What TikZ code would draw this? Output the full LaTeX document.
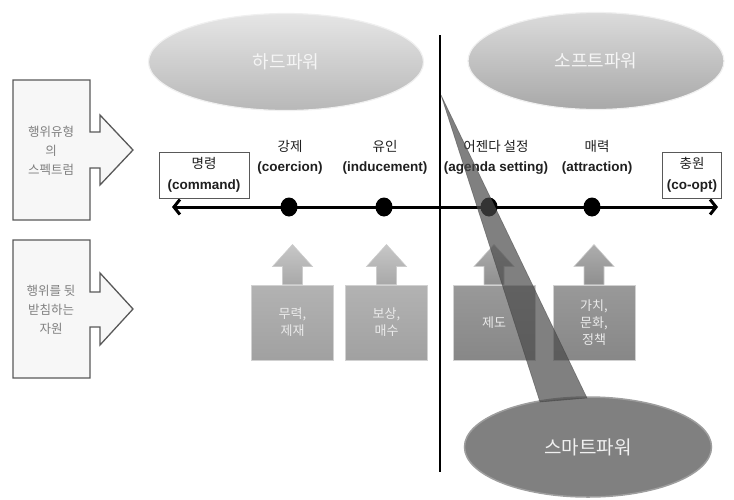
\documentclass[tikz,border=0pt]{standalone}
\usepackage{fontspec}
\setmainfont{Liberation Sans}
\newfontfamily\kr{Noto Sans CJK KR}
\usetikzlibrary{shapes.geometric,arrows.meta,calc}
\begin{document}
\begin{tikzpicture}[x=1pt,y=-1pt,
  every node/.style={inner sep=0pt},
  sideshape/.style={draw=black!65, line width=1.3pt, fill=black!3, line join=miter},
  sidetext/.style={font=\kr\fontsize{12.5}{19}\selectfont, text=black!50, align=center},
  hardsoft/.style={ellipse, minimum height=97pt, draw=black!6, line width=1.2pt, font=\kr\fontsize{18}{20}\selectfont, text=black!4},
  axislabel/.style={align=center, font=\fontsize{13.5}{20}\selectfont, text=black!88},
  endbox/.style={draw=black!65, line width=1pt, fill=white, align=center, font=\fontsize{13.5}{21}\selectfont, minimum height=46pt, text=black!88},
  dot/.style={ellipse, fill=black, minimum width=17pt, minimum height=19pt},
  resbox/.style={minimum width=82pt, minimum height=75pt, draw=black!18, line width=1pt, align=center, font=\kr\fontsize{13}{17}\selectfont, text=black!8},
  lightres/.style={resbox, top color=black!30, bottom color=black!37},
  darkres/.style={resbox, top color=black!40, bottom color=black!47},
  uparrow/.style={line width=0.6pt, draw=black!20},
  axisline/.style={line width=3pt, {Straight Barb[length=6pt,width=15pt]}-{Straight Barb[length=6pt,width=15pt]}},
  wedge/.style={fill=black!71, fill opacity=0.7, draw=black!75, draw opacity=0.5, line width=0.6pt},
]
\useasboundingbox (0,0) rectangle (734,499);

% left block arrows
\path[sideshape] (13,80) -- (90,80) -- (90,132) -- (100,132) -- (100,115) -- (133,150)
  -- (100,185) -- (100,168) -- (90,168) -- (90,220) -- (13,220) -- cycle;
\node[sidetext] (spec) at (51,151) {행위유형\\의\\스펙트럼};
\path[sideshape] (13,240) -- (90,240) -- (90,292) -- (100,292) -- (100,273) -- (133,309)
  -- (100,345) -- (100,327) -- (90,327) -- (90,378) -- (13,378) -- cycle;
\node[sidetext] (reso) at (51,310) {행위를 뒷\\받침하는\\자원};

% top ellipses
\node[hardsoft, minimum width=275pt, top color=black!10, bottom color=black!28] (hard) at (286,62) {하드파워};
\node[hardsoft, minimum width=256pt, top color=black!14, bottom color=black!34] (soft) at (596,61) {소프트파워};

% vertical divider
\coordinate (vt) at (440,35);
\coordinate (vb) at (440,472);
\draw[line width=1.5pt] (vt) -- (vb);

% axis
\coordinate (aL) at (172,207);
\coordinate (aR) at (718,207);
\draw[axisline] (aL) -- (aR);
\node[dot] (d1) at (289,207) {};
\node[dot] (d2) at (384,207) {};
\node[dot] (d3) at (489,207) {};
\node[dot] (d4) at (592,207) {};

\node[endbox, minimum width=90pt] (cmd) at (204,175) {{\kr 명령}\\\textbf{(command)}};
\node[endbox, minimum width=59pt] (coopt) at (692,175) {{\kr 충원}\\\textbf{(co-opt)}};
\node[axislabel] (l1) at (290,157) {{\kr 강제}\\\textbf{(coercion)}};
\node[axislabel] (l2) at (385,157) {{\kr 유인}\\\textbf{(inducement)}};
\node[axislabel] (l3) at (496,157) {{\kr 어젠다 설정}\\\textbf{(agenda setting)}};
\node[axislabel] (l4) at (597,157) {{\kr 매력}\\\textbf{(attraction)}};

% resource boxes
\node[lightres] (r1) at (292.5,322.5) {무력,\\제재};
\node[lightres] (r2) at (386.5,322.5) {보상,\\매수};
\node[darkres] (r3) at (494,322.5) {제도};
\node[darkres] (r4) at (594,322.5) {가치,\\문화,\\정책};
\foreach \r/\c/\d in {r1/black!22/black!34, r2/black!22/black!34, r3/black!32/black!44, r4/black!32/black!44}{
  \path[uparrow, top color=\c, bottom color=\d] ($(\r.north)+(-10,0)$) -- ++(0,-18) -- ++(-10,0) -- ++(20,-22)
    -- ++(20,22) -- ++(-10,0) -- ++(0,18);
}

% smart power callout
\node[ellipse, minimum width=247pt, minimum height=100pt, fill=black!50, draw=black!38, line width=1.5pt,
  font=\kr\fontsize{19}{21}\selectfont, text=black!6] (smart) at (588,447) {스마트파워};
\coordinate (apex) at (441,95);
\path[wedge] (apex) -- (540,402) -- (587,398) -- cycle;
\end{tikzpicture}
\end{document}
